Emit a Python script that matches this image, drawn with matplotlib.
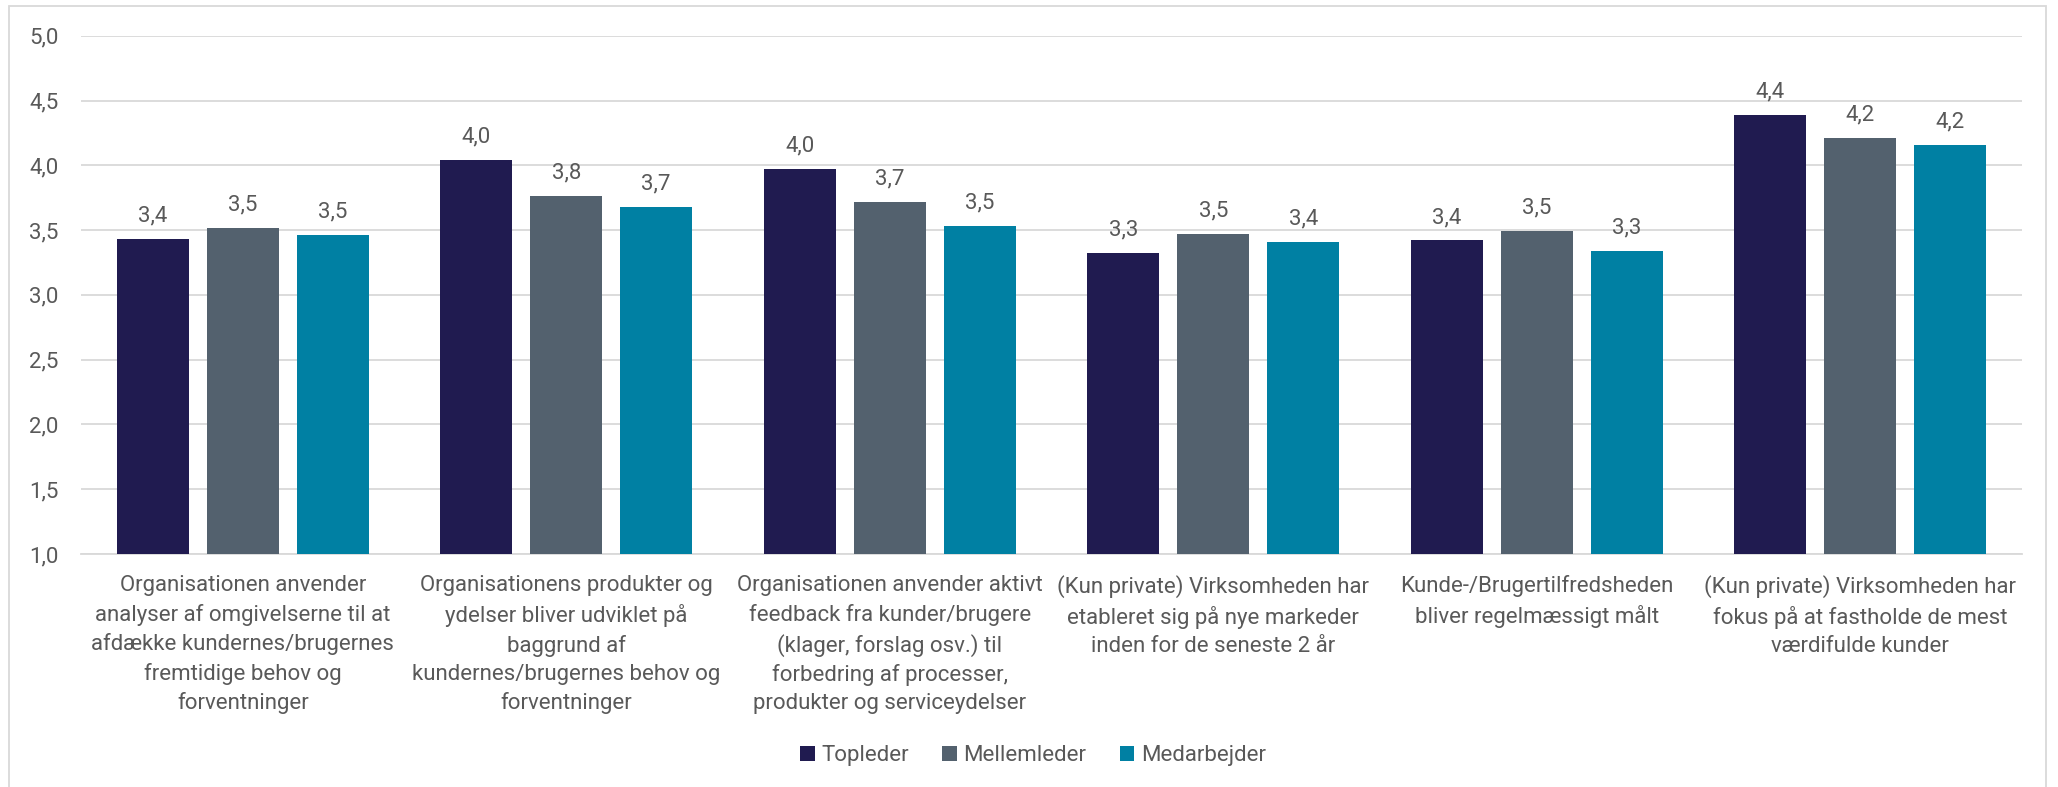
import numpy as np
import matplotlib
matplotlib.use("Agg")
import matplotlib.pyplot as plt
from matplotlib.patches import Rectangle

categories = [
    "Organisationen anvender\nanalyser af omgivelserne til at\nafdække kundernes/brugernes\nfremtidige behov og\nforventninger",
    "Organisationens produkter og\nydelser bliver udviklet på\nbaggrund af\nkundernes/brugernes behov og\nforventninger",
    "Organisationen anvender aktivt\nfeedback fra kunder/brugere\n(klager, forslag osv.) til\nforbedring af processer,\nprodukter og serviceydelser",
    "(Kun private) Virksomheden har\netableret sig på nye markeder\ninden for de seneste 2 år",
    "Kunde-/Brugertilfredsheden\nbliver regelmæssigt målt",
    "(Kun private) Virksomheden har\nfokus på at fastholde de mest\nværdifulde kunder",
]
series_names = ["Topleder", "Mellemleder", "Medarbejder"]
topleder = [3.43, 4.04, 3.97, 3.32, 3.42, 4.39]
mellemleder = [3.52, 3.76, 3.72, 3.47, 3.49, 4.21]
medarbejder = [3.46, 3.68, 3.53, 3.41, 3.34, 4.16]
yticks = [1.0, 1.5, 2.0, 2.5, 3.0, 3.5, 4.0, 4.5, 5.0]

colors = ["#201b50", "#53616e", "#0080a3"]
text_col = "#595959"
plt.rcParams["font.family"] = ["Roboto", "DejaVu Sans"]

fig = plt.figure(figsize=(20.58, 7.87), dpi=100)
ax = fig.add_axes([0.0394, 0.296, 0.9431, 0.6586])

x = np.arange(len(categories))
width = 0.2226
step = 0.278
for i, (name, vals) in enumerate(zip(series_names, [topleder, mellemleder, medarbejder])):
    pos = x + (i - 1) * step
    bars = ax.bar(pos, vals, width, bottom=0, color=colors[i], label=name, zorder=3)
    for b, v in zip(bars, vals):
        ax.annotate(f"{v:.1f}".replace(".", ","), (b.get_x() + b.get_width() / 2, v),
                    xytext=(0, 9), textcoords="offset points", ha="center", va="bottom",
                    fontsize=16, color=text_col)

ax.set_ylim(1.0, 5.0)
ax.set_xlim(-0.5, len(categories) - 0.5)
ax.set_yticks(yticks)
ax.set_yticklabels([f"{t:.1f}".replace(".", ",") for t in yticks], fontsize=16, color=text_col)
ax.set_xticks(x)
ax.set_xticklabels(categories, fontsize=16, color=text_col, linespacing=1.45)
ax.tick_params(axis="y", length=0, pad=16)
ax.tick_params(axis="x", length=0, pad=15)
ax.grid(axis="y", color="#d9d9d9", linewidth=1.3, zorder=0)
for s in ["top", "right", "left"]:
    ax.spines[s].set_visible(False)
ax.spines["bottom"].set_color("#d9d9d9")
ax.spines["bottom"].set_linewidth(1.3)

fig.legend(loc="center", bbox_to_anchor=(0.502, 0.04), ncol=3, frameon=False,
           fontsize=16, labelcolor=text_col, handlelength=0.65, handleheight=0.65,
           handletextpad=0.3, columnspacing=1.5)

fig.patches.append(Rectangle((9 / 2058, -0.01), 2037 / 2058, 1 - 6 / 787 + 0.01,
                             transform=fig.transFigure, fill=False,
                             edgecolor="#d9d9d9", linewidth=1.3))

fig.savefig("out.png", dpi=100, facecolor="white")
